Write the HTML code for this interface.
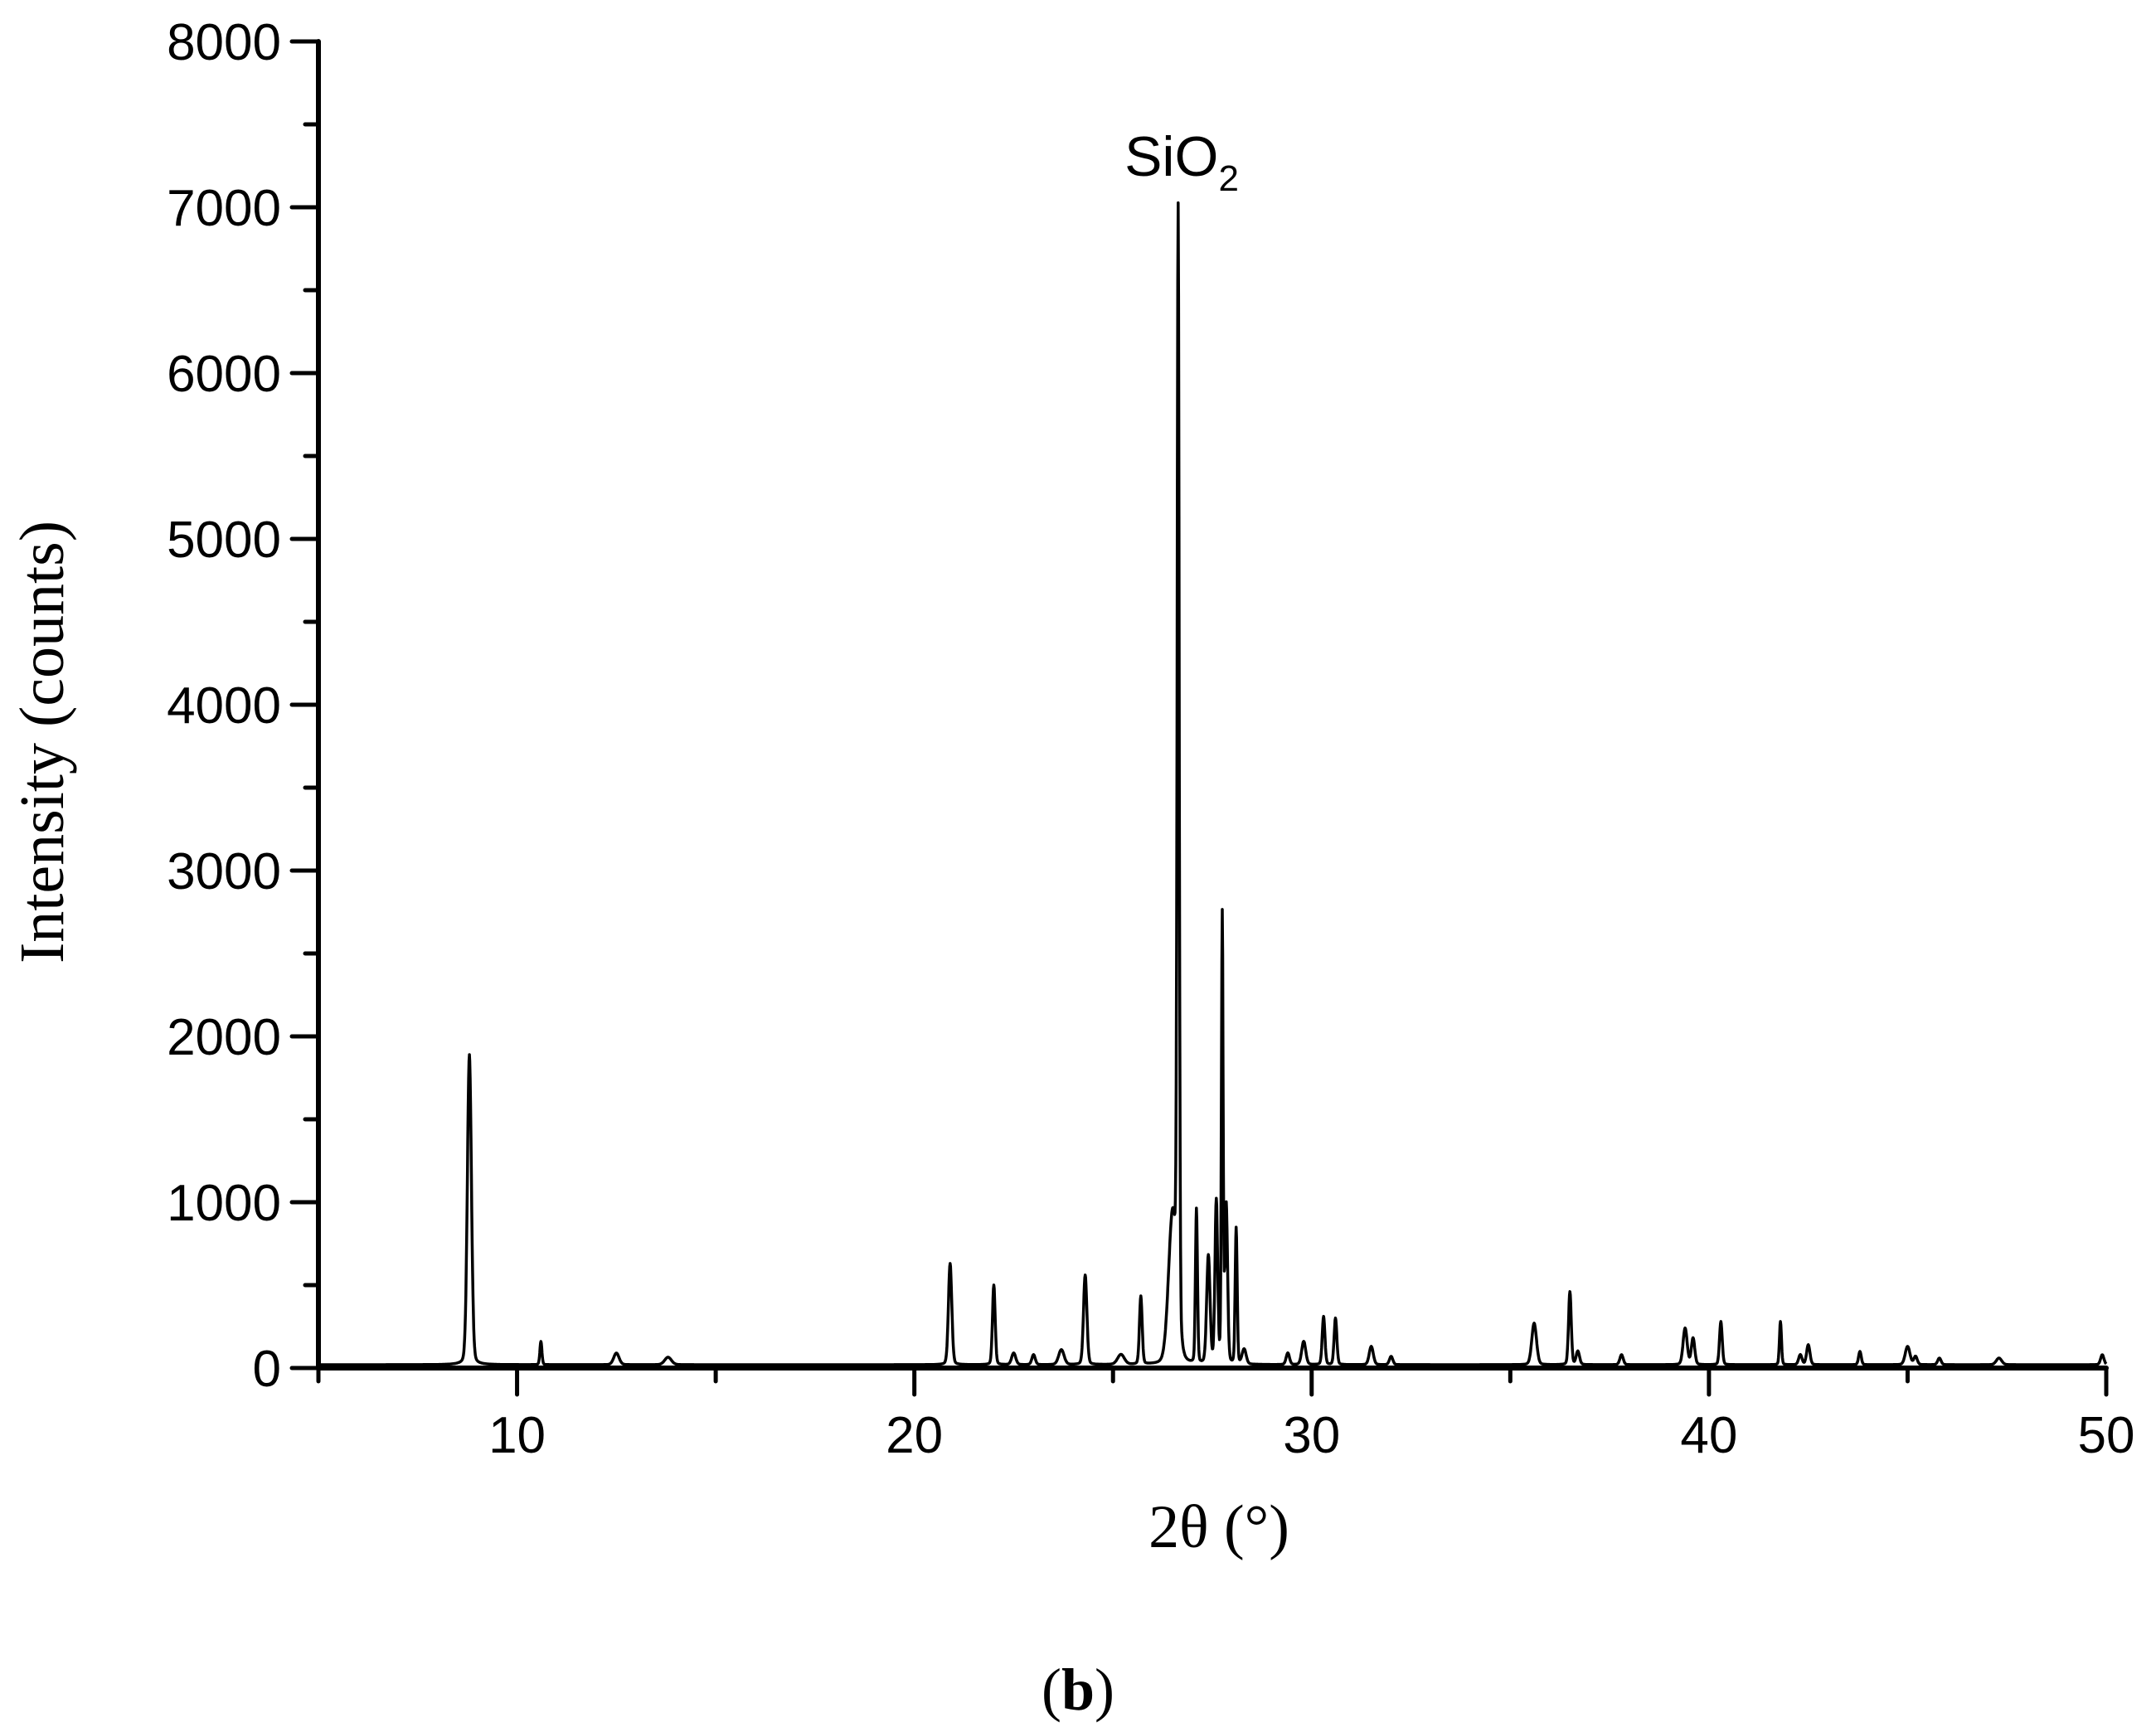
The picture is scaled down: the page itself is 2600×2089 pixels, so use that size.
<!DOCTYPE html>
<html><head><meta charset="utf-8"><style>
html,body{margin:0;padding:0;background:#fff;}
svg{display:block;}
</style></head><body>
<svg id="chart" width="2600" height="2089" viewBox="0 0 2600 2089" xmlns="http://www.w3.org/2000/svg">
<g id="axes"></g>
<path id="trace" fill="none" stroke="#000" stroke-width="3.5" stroke-linejoin="round"/>
<text x="1425" y="212" font-family="Liberation Sans, sans-serif" font-size="68" text-anchor="middle">SiO<tspan font-size="44" dy="18">2</tspan></text>
<text transform="translate(76,895) rotate(-90)" font-family="Liberation Serif, serif" font-size="76" text-anchor="middle">Intensity (counts)</text>
<text x="1470" y="1866" font-family="Liberation Serif, serif" font-size="74" text-anchor="middle">2θ (°)</text>
<text x="1300" y="2062" font-family="Liberation Serif, serif" font-size="72" text-anchor="middle">(<tspan font-weight="bold">b</tspan>)</text>
</svg>
<script>
const peakPos = [8.8,10.6,12.5,13.8,20.9,22.0,22.5,23.0,23.7,24.3,25.2,25.7,26.5,26.64,27.1,27.4,27.6,27.75,27.85,28.1,28.3,29.4,29.8,30.3,30.6,31.5,32.0,35.6,36.5,36.7,37.8,39.4,39.6,40.3,41.8,42.3,42.5,43.8,45.0,45.2,45.8,47.3,49.9];
const peakHeight = [1870,140,70,45,610,480,70,60,90,540,60,410,900,6650,930,650,980,2700,950,820,90,70,140,290,280,110,50,250,440,80,60,220,160,260,260,60,120,80,110,50,40,40,60];
const peakWidth = [0.06,0.03,0.08,0.1,0.05,0.04,0.06,0.05,0.08,0.05,0.1,0.04,0.12,0.03,0.03,0.05,0.04,0.025,0.04,0.03,0.06,0.05,0.06,0.04,0.04,0.06,0.05,0.07,0.04,0.05,0.05,0.06,0.05,0.04,0.03,0.05,0.05,0.04,0.07,0.05,0.05,0.08,0.05];
const baseline = 20;
const xTicks = [10,20,30,40,50];
const yTicks = [0,1000,2000,3000,4000,5000,6000,7000,8000];
const X0=384,X1=2540,Y0=1650,Y1=50;
const sx = v => X0 + (v-5)/(50-5)*(X1-X0);
const sy = v => Y0 - v/8000*(Y0-Y1);
const ns="http://www.w3.org/2000/svg";
const axes=document.getElementById('axes');
function line(x1,y1,x2,y2,w,name){const l=document.createElementNS(ns,'line');
l.setAttribute('x1',x1);l.setAttribute('y1',y1);l.setAttribute('x2',x2);l.setAttribute('y2',y2);
l.setAttribute('stroke','#000');l.setAttribute('stroke-width',w);l.setAttribute('stroke-linecap','round');


axes.appendChild(l);}
function text(x,y,s,anchor,name){const t=document.createElementNS(ns,'text');
t.setAttribute('x',x);t.setAttribute('y',y);t.setAttribute('font-family','Liberation Sans, sans-serif');
t.setAttribute('font-size','62');t.setAttribute('text-anchor',anchor);t.textContent=s;


axes.appendChild(t);}
line(X0,Y0,X1,Y0,6,'x-axis');
line(X0,Y0,X0,Y1,6,'y-axis');
for(let v=5;v<=50;v+=5){const major=v%10===0;line(sx(v),Y0,sx(v),Y0+(major?32:16),5,major?'x-major-tick':'x-minor-tick');}
xTicks.forEach(v=>text(sx(v),1752,String(v),'middle','x-tick-label'));
for(let v=0;v<=8000;v+=500){const major=v%1000===0;line(X0,sy(v),X0-(major?32:16),sy(v),5,major?'y-major-tick':'y-minor-tick');}
yTicks.forEach(v=>text(X0-45,sy(v)+22,String(v),'end','y-tick-label'));
let d='';
for(let x=5;x<=50.0001;x+=0.01){
  let y=baseline;
  for(let i=0;i<peakPos.length;i++){const u=(x-peakPos[i])/peakWidth[i];y+=peakHeight[i]*(0.85*Math.exp(-0.693*u*u)+0.15/(1+u*u));}
  d+=(d?'L':'M')+sx(x).toFixed(1)+' '+sy(y).toFixed(1);
}
document.getElementById('trace').setAttribute('d',d);
</script>
</body></html>
